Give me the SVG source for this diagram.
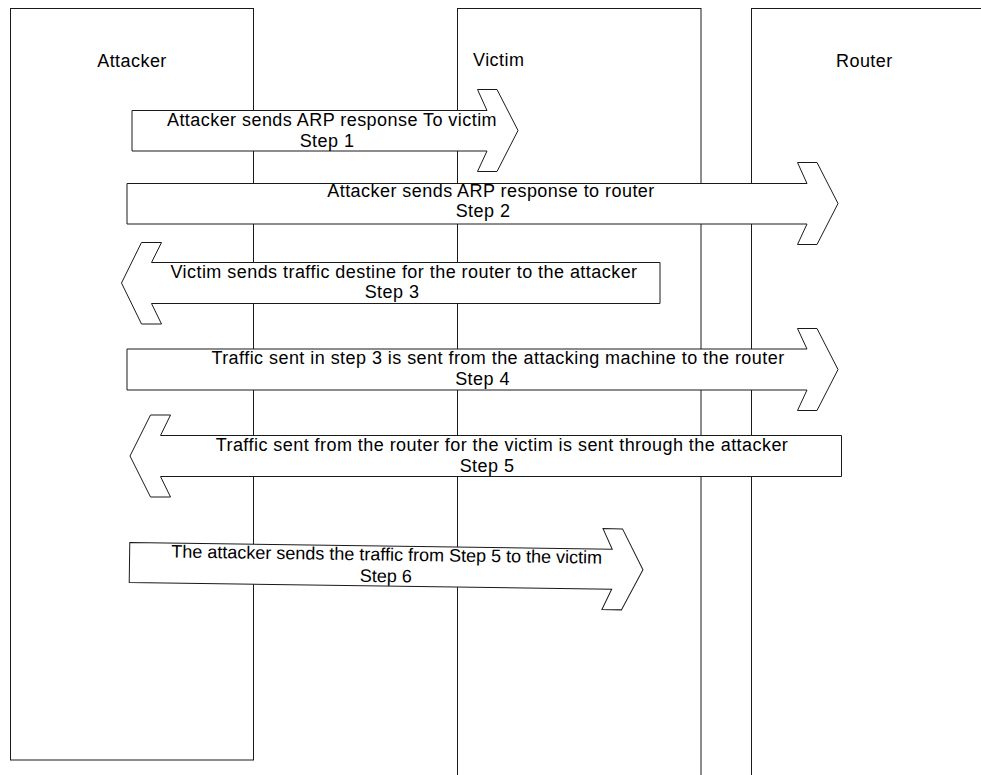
<svg xmlns="http://www.w3.org/2000/svg" width="981" height="775" viewBox="0 0 981 775">
<style>
.lane{fill:#fff;stroke:#1a1a1a;stroke-width:1}
.arr{fill:#fff;stroke:#1a1a1a;stroke-width:1;stroke-linejoin:miter}
text{font-family:"Liberation Sans",Arial,sans-serif;font-size:18px;fill:#000}
.sp{letter-spacing:0.45px}
.m{text-anchor:middle}
</style>
<rect width="981" height="775" fill="#fff"/>
<g id="attacker">
<rect class="lane" x="10.5" y="8.5" width="243" height="751.5"/>
<text class="sp m" x="132" y="66.5">Attacker</text>
</g>
<g id="victim">
<rect class="lane" x="457.5" y="8.5" width="243.5" height="790"/>
<text class="sp" x="473" y="66">Victim</text>
</g>
<g id="router">
<rect class="lane" x="751.5" y="8.5" width="260" height="790"/>
<text class="sp" x="836" y="66.5">Router</text>
</g>
<g id="connectors">
<g id="step1">
<path class="arr" d="M132,110.5 L487,110.5 L477.5,89.5 L497,89.5 L518,130.5 L497,171.5 L477.5,171.5 L487,151 L132,151 Z"/>
<text class="sp m" x="332" y="126">Attacker sends ARP response To victim</text>
<text class="sp m" x="327" y="146.5">Step 1</text>
</g>
<g id="step2">
<path class="arr" d="M127,183.5 L807,183.5 L797.5,162.5 L817,162.5 L838,203.5 L817,244.5 L797.5,244.5 L807,224 L127,224 Z"/>
<text class="sp m" x="491" y="197">Attacker sends ARP response to router</text>
<text class="sp m" x="483" y="217">Step 2</text>
</g>
<g id="step3">
<path class="arr" d="M660,262.5 L151.5,262.5 L161.5,242.5 L141.5,242.5 L121.5,283 L141.5,324 L161.5,324 L151.5,303.5 L660,303.5 Z"/>
<text class="sp m" x="404" y="277.5">Victim sends traffic destine for the router to the attacker</text>
<text class="sp m" x="392" y="298">Step 3</text>
</g>
<g id="step4">
<path class="arr" d="M127,349 L807,349 L797.5,328.5 L817,328.5 L838,369.5 L817,410.5 L797.5,410.5 L807,390 L127,390 Z"/>
<text class="sp m" x="498" y="364">Traffic sent in step 3 is sent from the attacking machine to the router</text>
<text class="sp m" x="482.5" y="385">Step 4</text>
</g>
<g id="step5">
<path class="arr" d="M841.5,435.5 L160.5,435.5 L170.5,415 L150.5,415 L130,456 L150.5,497 L170.5,497 L160.5,476.5 L841.5,476.5 Z"/>
<text class="sp m" x="502" y="450.5">Traffic sent from the router for the victim is sent through the attacker</text>
<text class="sp m" x="487" y="471.5">Step 5</text>
</g>
<g id="step6" transform="rotate(0.8 129.5 562.5)">
<path class="arr" d="M129.5,542.5 L612,542.5 L602.5,522 L622,522 L643,562.5 L622,603 L602.5,603 L612,582.5 L129.5,582.5 Z"/>
<text class="m" x="386.5" y="557">The attacker sends the traffic from Step 5 to the victim</text>
<text class="m" x="386" y="578.5">Step 6</text>
</g>
</g>
</svg>
